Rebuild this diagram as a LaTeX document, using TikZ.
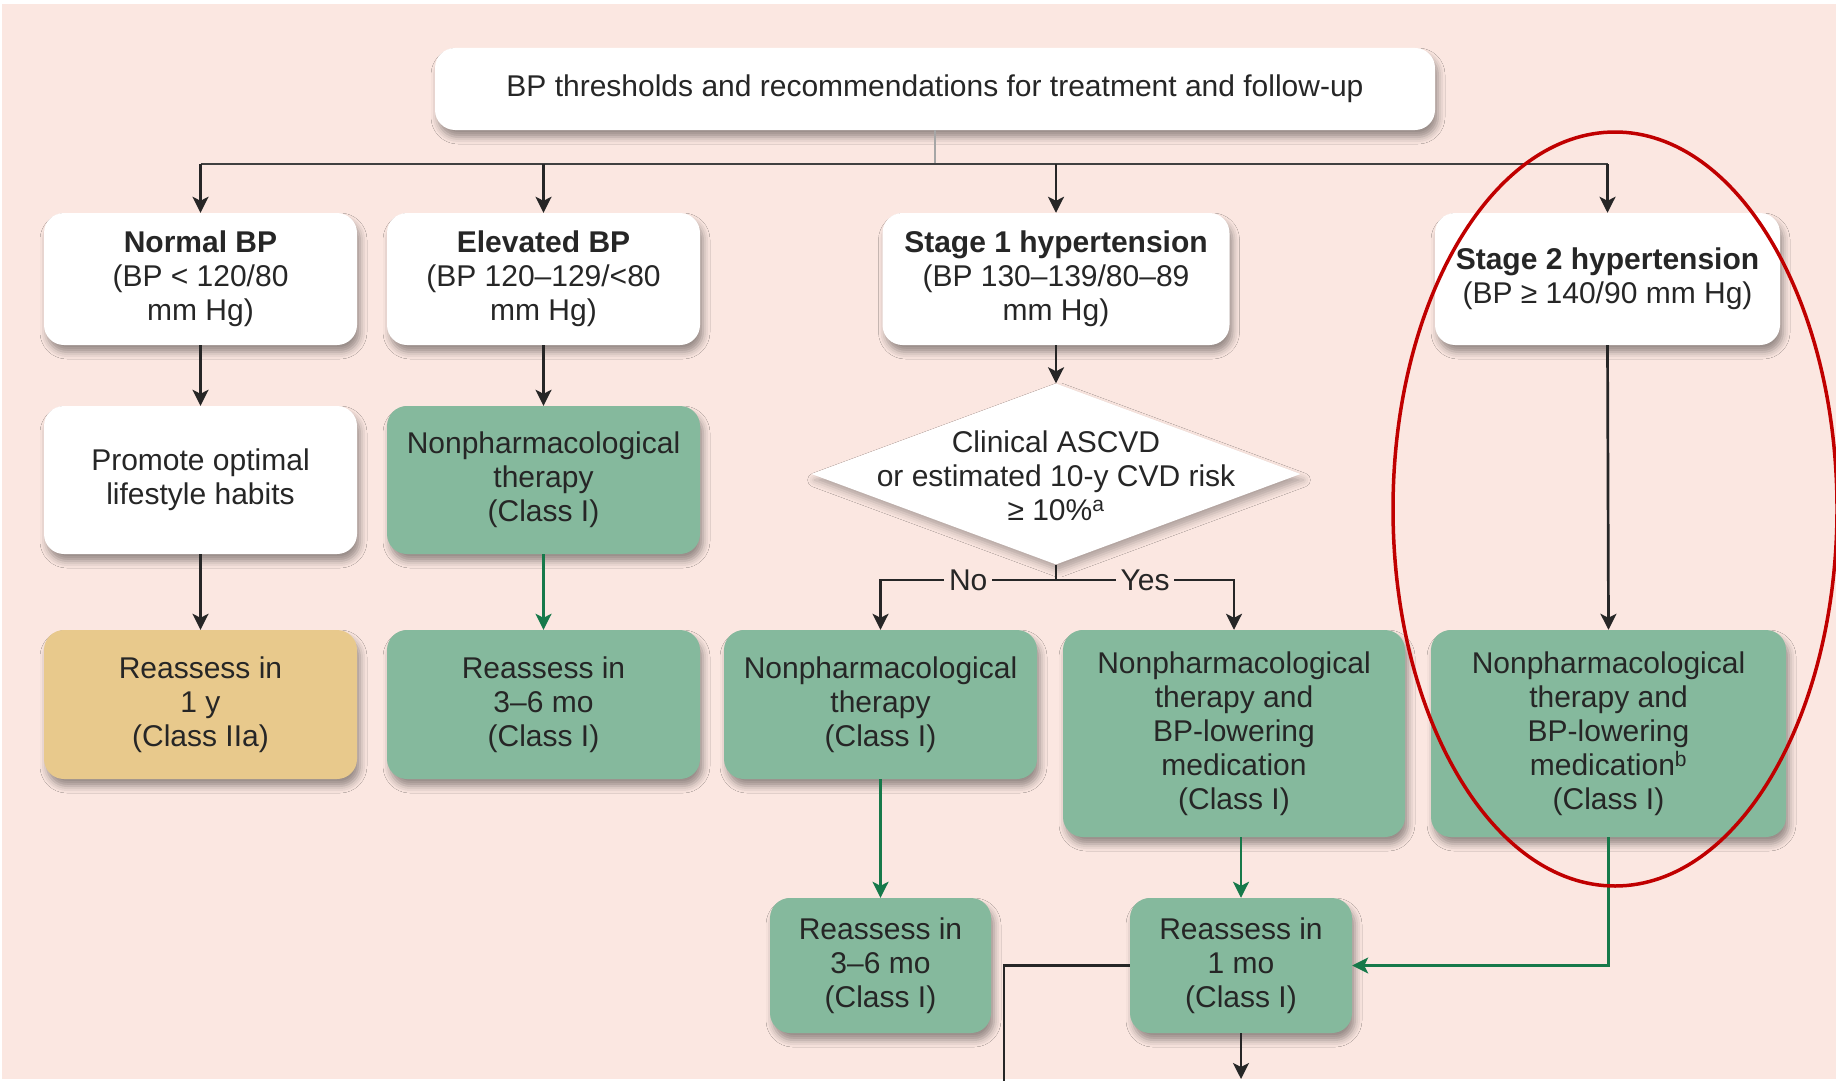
\documentclass[tikz,border=0pt]{standalone}
\usepackage{fontspec}
\setmainfont{Liberation Sans}
\usetikzlibrary{shapes.geometric,arrows.meta,shadows.blur}
\definecolor{bg}{HTML}{FBE7E1}
\definecolor{boxgreen}{HTML}{85B99D}
\definecolor{boxtan}{HTML}{E8C98C}
\definecolor{arrgreen}{HTML}{16794A}
\definecolor{ink}{HTML}{262626}
\definecolor{ellred}{HTML}{C00000}
\begin{document}
\begin{tikzpicture}[x=1pt,y=-1pt,
  font=\fontsize{30}{34}\selectfont,
  box/.style={rectangle, rounded corners=20pt, align=center, text=ink, inner sep=4pt,
    blur shadow={shadow xshift=3pt, shadow yshift=-7pt, shadow blur radius=7pt, shadow opacity=40}},
  wbox/.style={box, fill=white},
  gbox/.style={box, fill=boxgreen},
  tbox/.style={box, fill=boxtan},
  conn/.style={line width=2.7pt, draw=ink},
  arr/.style={conn, -{Stealth[length=16pt,width=16pt,inset=4pt]}},
  garr/.style={arr, draw=arrgreen},
  lbl/.style={fill=bg, inner sep=5pt, text=ink},
  decision/.style={diamond, fill=white, inner sep=0pt,
    blur shadow={shadow xshift=3pt, shadow yshift=-6pt, shadow blur radius=7pt, shadow opacity=30}}
]
\useasboundingbox (0,0) rectangle (1836,1081);
\fill[white] (0,0) rectangle (1836,1081);
\fill[bg] (2,4) rectangle (1836,1079);

% title
\node[wbox, minimum width=1000pt, minimum height=82pt] (title) at (935,89)
  {BP thresholds and recommendations for treatment and follow-up};

% row 1
\node[wbox, minimum width=313pt, minimum height=132pt] (nbp) at (200.5,279)
  {\textbf{Normal BP}\\(BP < 120/80\\mm Hg)};
\node[wbox, minimum width=313pt, minimum height=132pt] (ebp) at (543.5,279)
  {\textbf{Elevated BP}\\(BP 120–129/<80\\mm Hg)};
\node[wbox, minimum width=347pt, minimum height=132pt] (s1) at (1056,279)
  {\textbf{Stage 1 hypertension}\\(BP 130–139/80–89\\mm Hg)};
\node[wbox, minimum width=345pt, minimum height=132pt] (s2) at (1607.5,279)
  {\textbf{Stage 2 hypertension}\\(BP ≥ 140/90 mm Hg)};

% row 2
\node[wbox, minimum width=313pt, minimum height=148pt] (promote) at (200.5,480)
  {Promote optimal\\lifestyle habits};
\node[gbox, minimum width=313pt, minimum height=148pt] (np0) at (543.5,480)
  {Nonpharmacological\\therapy\\(Class I)};
\node[decision, minimum width=489pt, minimum height=181pt] (dia) at (1056,474) {};
\node[align=center, text=ink] (diatext) at (1056,476)
  {Clinical ASCVD\\or estimated 10-y CVD risk\\≥ 10\%\textsuperscript{a}};

% row 3
\node[tbox, minimum width=313pt, minimum height=149pt] (r1y) at (200.5,704.5)
  {Reassess in\\1 y\\(Class IIa)};
\node[gbox, minimum width=313pt, minimum height=149pt] (r36a) at (543.5,704.5)
  {Reassess in\\3–6 mo\\(Class I)};
\node[gbox, minimum width=313pt, minimum height=149pt] (np1) at (880.5,704.5)
  {Nonpharmacological\\therapy\\(Class I)};
\node[gbox, minimum width=342pt, minimum height=207pt] (npm1) at (1234,733.5)
  {Nonpharmacological\\therapy and\\BP-lowering\\medication\\(Class I)};
\node[gbox, minimum width=355pt, minimum height=207pt] (npm2) at (1608.5,733.5)
  {Nonpharmacological\\therapy and\\BP-lowering\\medication\textsuperscript{b}\\(Class I)};

% row 4
\node[gbox, minimum width=221pt, minimum height=135pt] (r36b) at (880.5,965.5)
  {Reassess in\\3–6 mo\\(Class I)};
\node[gbox, minimum width=222pt, minimum height=135pt] (r1m) at (1241,965.5)
  {Reassess in\\1 mo\\(Class I)};

% connectors
\coordinate (bus) at (935,164);
\coordinate (split) at (1056,580);
\coordinate (exitL) at (1004,1082);
\coordinate (exitB) at (1241,1079);

\draw[line width=1.5pt, draw=black!35] (title.south) -- (bus);
\draw[conn, draw=black!75] (bus -| nbp.north) -- (bus -| s2.north);
\draw[arr] (bus -| nbp.north) -- (nbp.north);
\draw[arr] (bus -| ebp.north) -- (ebp.north);
\draw[arr] (bus -| s1.north) -- (s1.north);
\draw[arr] (bus -| s2.north) -- (s2.north);

\draw[arr] (nbp.south) -- (promote.north);
\draw[arr] (ebp.south) -- (np0.north);
\draw[arr] (s1.south) -- (dia.north);
\draw[arr] (s2.south) -- (npm2.north);

\draw[arr] (promote.south) -- (r1y.north);
\draw[garr] (np0.south) -- (r36a.north);

\draw[conn] (dia.south) -- (split);
\draw[arr] (split) -| node[lbl, pos=0.25] {No} (np1.north);
\draw[arr] (split) -| node[lbl, pos=0.25] {Yes} (npm1.north);

\draw[garr] (np1.south) -- (r36b.north);
\draw[garr] (r1m.north |- npm1.south) -- (r1m.north);
\draw[garr, line width=2.2pt] (npm2.south) |- (r1m.east);
\draw[conn] (r1m.west) -| (exitL);
\draw[arr] (r1m.south) -- (exitB);

% highlight ellipse
\draw[ellred, line width=3.5pt] (1615,509) ellipse [x radius=222pt, y radius=377pt];
\end{tikzpicture}
\end{document}
